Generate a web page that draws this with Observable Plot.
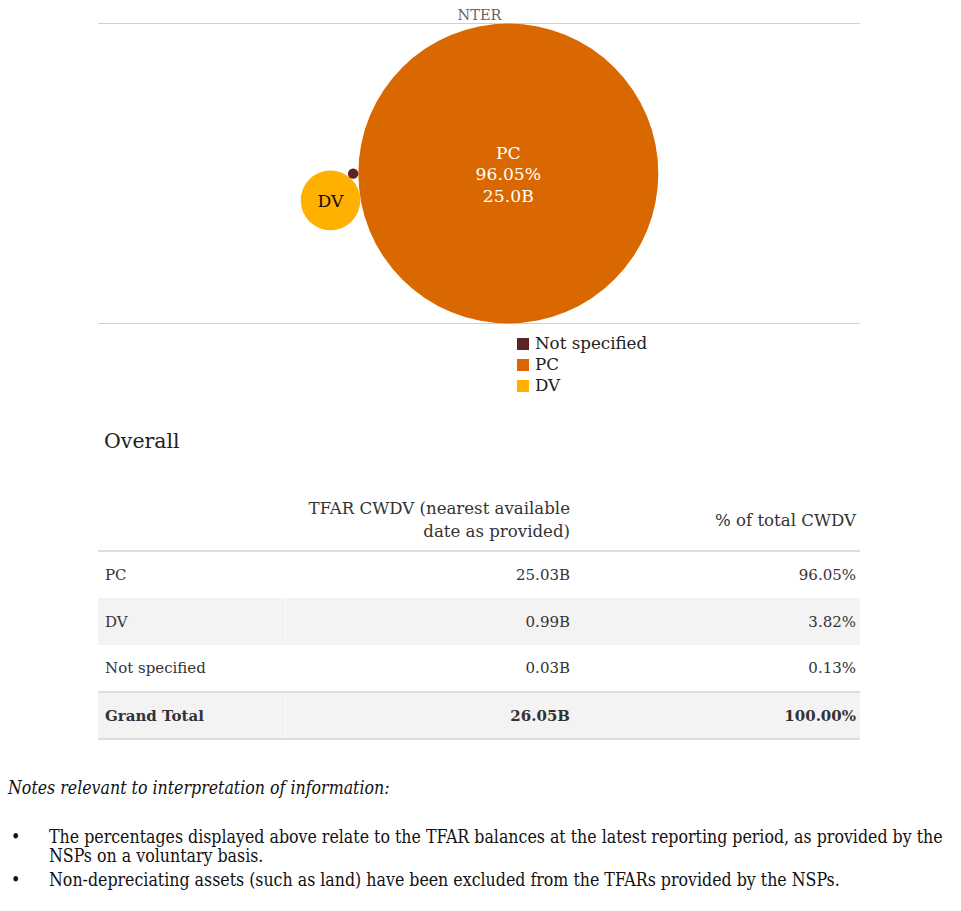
<!DOCTYPE html>
<html>
<head>
<meta charset="utf-8">
<script src="https://cdn.jsdelivr.net/npm/d3@7"></script>
<script src="https://cdn.jsdelivr.net/npm/@observablehq/plot@0.6"></script>
<style>
  html, body { margin: 0; padding: 0; background: #fff; }
  body { font-family: "DejaVu Serif", Georgia, serif; color: #222; }
  #wrap { position: relative; width: 961px; height: 911px; overflow: hidden; }
  #chart { position: absolute; left: 98px; top: 0; }
  #legend { position: absolute; left: 517px; top: 333px; font-size: 16.7px; line-height: 21px; color: #222; }
  #legend .item { display: flex; align-items: center; white-space: nowrap; }
  #legend .sw { width: 12px; height: 12px; margin-right: 6px; display: inline-block; }
  #overall { position: absolute; left: 104px; top: 429px; font-size: 20.5px; color: #222; }
  #tbl { position: absolute; left: 98px; top: 492px; width: 762px; border-collapse: collapse; table-layout: fixed; font-size: 15px; color: #333; }
  #tbl th, #tbl td { box-sizing: border-box; }
  #tbl th { font-weight: normal; font-size: 16.6px; text-align: right; padding: 4px 4px 6px 4px; vertical-align: middle; line-height: 23px; height: 59px; border-bottom: 2px solid #ddd; }
  #tbl td { padding: 0 4px 0 7px; height: 47px; vertical-align: middle; }
  #tbl td.num { text-align: right; padding-right: 4px; }
  #tbl tr.alt td { background: #f3f3f3; }
  #tbl tr.alt td:first-child { border-right: 1px solid #f9f9f9; }
  #tbl tr.total td { font-weight: bold; border-top: 2px solid #ddd; border-bottom: 2px solid #ddd; }
  #notes { position: absolute; left: 8px; top: 778px; width: 945px; font-family: "DejaVu Serif Condensed", "DejaVu Serif", serif; font-stretch: condensed; font-size: 17.6px; color: #111; }
  #notes .head { font-style: italic; line-height: 20px; }
  #notes ul { margin: 0; padding: 0; list-style: none; position: absolute; top: 50px; left: 0; width: 945px; }
  #notes li { position: relative; padding-left: 41px; line-height: 19px; margin-bottom: 5px; }
  #notes li::before { content: "\2022"; position: absolute; left: 3px; }
</style>
</head>
<body>
<div id="wrap">
  <div id="chart"></div>
  <div id="legend"></div>
  <div id="overall">Overall</div>
  <table id="tbl"></table>
  <div id="notes"></div>
</div>
<script>
// ---- data ----
const chartTitle = "NTER";
const categories = ["PC", "DV", "Not specified"];
const values = [25.03, 0.99, 0.03];          // TFAR CWDV, billions
const shares = [96.05, 3.82, 0.13];          // % of total CWDV
const colors = ["#D96800", "#FFB000", "#5E2424"];
const legendOrder = ["Not specified", "PC", "DV"];
const totalLabel = "Grand Total";
const totalValue = 26.05;
const totalShare = 100.00;
const headers = ["", "TFAR CWDV (nearest available<br>date as provided)", "% of total CWDV"];
const notesTitle = "Notes relevant to interpretation of information:";
const notes = [
  "The percentages displayed above relate to the TFAR balances at the latest reporting period, as provided by the<br>NSPs on a voluntary basis.",
  "Non-depreciating assets (such as land) have been excluded from the TFARs provided by the NSPs."
];

// ---- layout ----
const W = 762, plotH = 300, mTop = 23, mBottom = 2;
const xDomain = [-W / 2, W / 2];
const yDomain = [-plotH / 2, plotH / 2];
const rScale = Plot.scale({r: {type: "sqrt", domain: [0, d3.max(values)], range: [0, plotH / 2]}});

// pack the bubbles with d3.packSiblings (screen coords, y down), then orient like the reference
const nodes = categories.map((c, i) => ({cat: c, value: values[i], share: shares[i], color: colors[i], r: rScale.apply(values[i])}));
d3.packSiblings([nodes[1], nodes[0], nodes[2]]); // DV, PC, Not specified
const [pc, dv, ns] = nodes;
const ox = pc.x, oy = pc.y;
nodes.forEach(n => { n.x -= ox; n.y -= oy; });
const ang = n => Math.atan2(n.y, n.x);
let diff = ang(ns) - ang(dv);
while (diff > Math.PI) diff -= 2 * Math.PI;
while (diff < -Math.PI) diff += 2 * Math.PI;
if (diff < 0) nodes.forEach(n => { n.y = -n.y; });
const rot = (Math.PI - 0.15) - ang(dv); // DV slightly below-left of PC
nodes.forEach(n => {
  const x = n.x * Math.cos(rot) - n.y * Math.sin(rot);
  const y = n.x * Math.sin(rot) + n.y * Math.cos(rot);
  n.x = x; n.y = y;
});
// center the bounding box of the pack
const x0 = d3.min(nodes, n => n.x - n.r), x1 = d3.max(nodes, n => n.x + n.r);
const y0 = d3.min(nodes, n => n.y - n.r), y1 = d3.max(nodes, n => n.y + n.r);
const cx = (x0 + x1) / 2, cy = (y0 + y1) / 2;
nodes.forEach(n => { n.x -= cx; n.y -= cy; });

const labelFor = n => n.r > 60 ? `${n.cat}\n${n.share.toFixed(2)}%\n${n.value.toFixed(1)}B` : (n.r > 18 ? n.cat : "");

const chart = Plot.plot({
  width: W,
  height: plotH + mTop + mBottom,
  marginTop: mTop, marginBottom: mBottom, marginLeft: 0, marginRight: 0,
  style: {fontFamily: "'DejaVu Serif', Georgia, serif", background: "transparent", overflow: "visible"},
  x: {domain: xDomain, axis: null},
  y: {domain: yDomain, axis: null, reverse: true},
  r: {type: "sqrt", domain: [0, d3.max(values)], range: [0, plotH / 2]},
  marks: [
    Plot.ruleY(yDomain, {y: d => d, stroke: "#d0d0d0", strokeWidth: 1.2}),
    Plot.dot(nodes, {x: "x", y: "y", r: "value", fill: "color", stroke: null}),
    Plot.text(nodes, {x: "x", y: "y", text: labelFor, fill: d => d.r > 60 ? "white" : "#111", fontSize: 17.2, lineHeight: 1.25}),
    Plot.text([chartTitle], {text: d => d, frameAnchor: "top", dy: -14, fill: "#666", fontSize: 14.5})
  ]
});
document.getElementById("chart").appendChild(chart);

// legend
const colorOf = Object.fromEntries(categories.map((c, i) => [c, colors[i]]));
document.getElementById("legend").innerHTML = legendOrder.map(c =>
  `<div class="item"><span class="sw" style="background:${colorOf[c]}"></span>${c}</div>`).join("");

// table
const fmtB = v => v.toFixed(2) + "B";
const fmtP = v => v.toFixed(2) + "%";
let html = `<colgroup><col style="width:187px"><col style="width:289px"><col style="width:286px"></colgroup>`;
html += `<tr>${headers.map(h => `<th>${h}</th>`).join("")}</tr>`;
categories.forEach((c, i) => {
  html += `<tr class="${i === 1 ? "alt" : ""}"><td>${c}</td><td class="num">${fmtB(values[i])}</td><td class="num">${fmtP(shares[i])}</td></tr>`;
});
html += `<tr class="alt total"><td>${totalLabel}</td><td class="num">${fmtB(totalValue)}</td><td class="num">${fmtP(totalShare)}</td></tr>`;
document.getElementById("tbl").innerHTML = html;

// notes
document.getElementById("notes").innerHTML = `<div class="head">${notesTitle}</div><ul>${notes.map(n => `<li>${n}</li>`).join("")}</ul>`;
</script>
</body>
</html>
